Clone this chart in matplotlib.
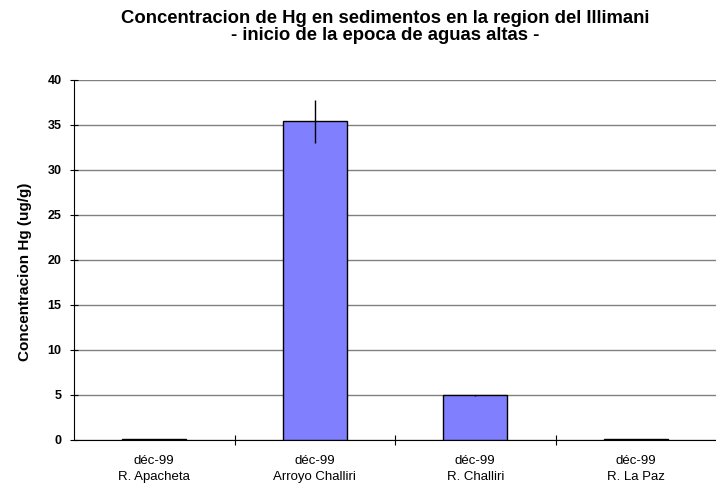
import matplotlib.pyplot as plt
import numpy as np

plt.rcParams['font.family'] = ['Liberation Sans', 'DejaVu Sans']

# Hg in sediments, start of high-water season
sites = ['R. Apacheta', 'Arroyo Challiri', 'R. Challiri', 'R. La Paz']
fechas = ['déc-99', 'déc-99', 'déc-99', 'déc-99']
hg = [0.15, 35.4, 4.95, 0.12]
hg_err = [0.0, 2.4, 0.08, 0.0]

fig = plt.figure(figsize=(7.16, 4.88), dpi=100)
ax = fig.add_axes([0.1034, 0.0984, 0.8966, 0.7377])

x = np.arange(len(sites))
ax.bar(x, hg, width=0.4, color='#8080FF', edgecolor='black', linewidth=1.0, zorder=3)
ax.errorbar(x, hg, yerr=hg_err, fmt='none', ecolor='black', elinewidth=1.0, capsize=0, zorder=4)

ax.set_xlim(-0.5, len(sites) - 0.5)
ax.set_ylim(0, 40)
ax.set_yticks(np.arange(0, 41, 5))
ax.yaxis.grid(True, color='#808080', linewidth=1.0, zorder=0)
ax.tick_params(axis='y', direction='inout', length=6, labelsize=9, pad=6)
for lbl in ax.get_yticklabels():
    lbl.set_fontweight('bold')

# category labels in the middle, ticks on the separators
ax.set_xticks(x[:-1] + 0.5, minor=False)
ax.set_xticklabels([])
ax.tick_params(axis='x', direction='inout', length=7)
ax.set_xticks(x, minor=True)
ax.set_xticklabels([f'{f}\n{s}' for f, s in zip(fechas, sites)], minor=True,
                   fontsize=9.5, linespacing=1.45)
ax.tick_params(axis='x', which='minor', length=0, pad=11)

for side in ['top', 'right']:
    ax.spines[side].set_visible(False)

ax.set_ylabel('Concentracion Hg (ug/g)', fontsize=11, fontweight='bold')
ax.yaxis.set_label_coords(-0.065, 0.467)

fig.text(0.5377, 0.945, 'Concentracion de Hg en sedimentos en la region del Illimani\n- inicio de la epoca de aguas altas -',
         ha='center', va='center', fontsize=13.3, fontweight='bold', linespacing=1.05)

fig.savefig('out.png', dpi=100)
